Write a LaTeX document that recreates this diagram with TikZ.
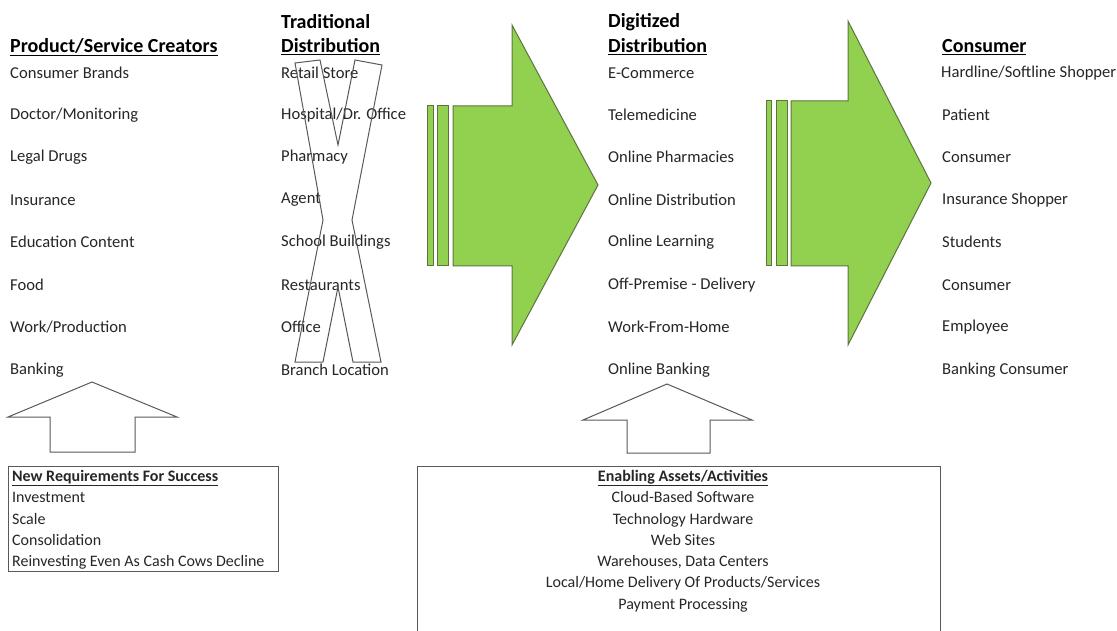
\documentclass[tikz,border=0pt]{standalone}
\usepackage{fontspec}
\setmainfont{Carlito}
\definecolor{arrowgreen}{HTML}{92D050}
\definecolor{arrowline}{HTML}{5E7440}
\definecolor{linegray}{HTML}{595959}
\definecolor{textgray}{HTML}{262626}
\tikzset{
  item/.style={anchor=west, inner sep=0pt, text=textgray, font=\fontsize{16.6}{20}\selectfont},
  head/.style={anchor=west, inner sep=0pt, text=black, font=\fontsize{20}{24}\selectfont\bfseries},
  boxtext/.style={inner sep=0pt, text=textgray, font=\fontsize{16}{21.3}\selectfont},
  framebox/.style={draw=linegray, line width=0.9pt, inner sep=0pt, anchor=north west},
  greenarrow/.style={fill=arrowgreen, draw=arrowline, line width=1pt, line join=miter},
  hollow/.style={draw=linegray, fill=white, line width=1pt, line join=miter}
}
\begin{document}
\begin{tikzpicture}[x=1pt, y=-1pt]
  \useasboundingbox (0,0) rectangle (1117,631);
  \clip (0,0) rectangle (1117,631);

  % headers
  \node[head] (H1) at (10,47) {\underline{Product/Service Creators}};
  \node[head] (H2a) at (281,22) {Traditional};
  \node[head] (H2) at (281,47) {\underline{Distribution}};
  \node[head] (H3a) at (608,22) {Digitized};
  \node[head] (H3) at (608,47) {\underline{Distribution}};
  \node[head] (H4) at (942,47) {\underline{Consumer}};

  % creators
  \node[item] (P1) at (10,73) {Consumer Brands};
  \node[item] (P2) at (10,115) {Doctor/Monitoring};
  \node[item] (P3) at (10,157) {Legal Drugs};
  \node[item] (P4) at (10,200) {Insurance};
  \node[item] (P5) at (10,242) {Education Content};
  \node[item] (P6) at (10,285) {Food};
  \node[item] (P7) at (10,327) {Work/Production};
  \node[item] (P8) at (10,370) {Banking};

  % traditional
  \node[item] (T1) at (281,73) {Retail Store};
  \node[item] (T2) at (281,115) {Hospital/Dr. Office};
  \node[item] (T3) at (281,157) {Pharmacy};
  \node[item] (T4) at (281,200) {Agent};
  \node[item] (T5) at (281,242) {School Buildings};
  \node[item] (T6) at (281,285) {Restaurants};
  \node[item] (T7) at (281,327) {Office};
  \node[item] (T8) at (281,370) {Branch Location};

  % digitized
  \node[item] (D1) at (608,73) {E-Commerce};
  \node[item] (D2) at (608,115) {Telemedicine};
  \node[item] (D3) at (608,157) {Online Pharmacies};
  \node[item] (D4) at (608,200) {Online Distribution};
  \node[item] (D5) at (608,242) {Online Learning};
  \node[item] (D6) at (608,285) {Off-Premise - Delivery};
  \node[item] (D7) at (608,327) {Work-From-Home};
  \node[item] (D8) at (608,370) {Online Banking};

  % consumer
  \node[item] (C1) at (941,73) {Hardline/Softline Shopper};
  \node[item] (C2) at (942,115) {Patient};
  \node[item] (C3) at (942,157) {Consumer};
  \node[item] (C4) at (942,200) {Insurance Shopper};
  \node[item] (C5) at (942,242) {Students};
  \node[item] (C6) at (942,285) {Consumer};
  \node[item] (C7) at (942,327) {Employee};
  \node[item] (C8) at (942,370) {Banking Consumer};

  % the cross over traditional distribution
  \draw[draw=linegray, line width=1pt, line join=miter]
    (295,63) -- (320,60) -- (338,145) -- (355,60) -- (382,65) -- (352,220)
    -- (381,362) -- (353,362) -- (338,287) -- (323,362) -- (295,362)
    -- (323,220) -- cycle;

  % green arrows
  \draw[greenarrow] (427,106) rectangle (433,266);
  \draw[greenarrow] (437,106) rectangle (448,266);
  \draw[greenarrow] (453,106) -- (512,106) -- (512,25) -- (598,185)
    -- (512,345) -- (512,266) -- (453,266) -- cycle;
  \draw[greenarrow] (766,101) rectangle (771,266);
  \draw[greenarrow] (776,101) rectangle (787,266);
  \draw[greenarrow] (791,101) -- (848,101) -- (848,21) -- (931,183)
    -- (848,345) -- (848,266) -- (791,266) -- cycle;

  % up arrows
  \draw[hollow] (50,452) -- (50,417) -- (8,417) -- (92,382) -- (177,417)
    -- (135,417) -- (135,452) -- cycle;
  \draw[hollow] (627,453) -- (627,420) -- (583,420) -- (667,384) -- (752,420)
    -- (710,420) -- (710,453) -- cycle;

  % boxes
  \node[framebox, minimum width=270pt, minimum height=105pt] (reqbox) at (8,466) {};
  \node[boxtext, anchor=north west, align=left] (reqtext) at (12,470)
    {\textbf{\underline{New Requirements For Success}}\\Investment\\Scale\\Consolidation\\Reinvesting Even As Cash Cows Decline};
  \node[framebox, minimum width=523pt, minimum height=185pt] (assetbox) at (417,466) {};
  \node[boxtext, anchor=north, align=center] (assettext) at (683,470)
    {\textbf{\underline{Enabling Assets/Activities}}\\Cloud-Based Software\\Technology Hardware\\Web Sites\\Warehouses, Data Centers\\Local/Home Delivery Of Products/Services\\Payment Processing};
\end{tikzpicture}
\end{document}
